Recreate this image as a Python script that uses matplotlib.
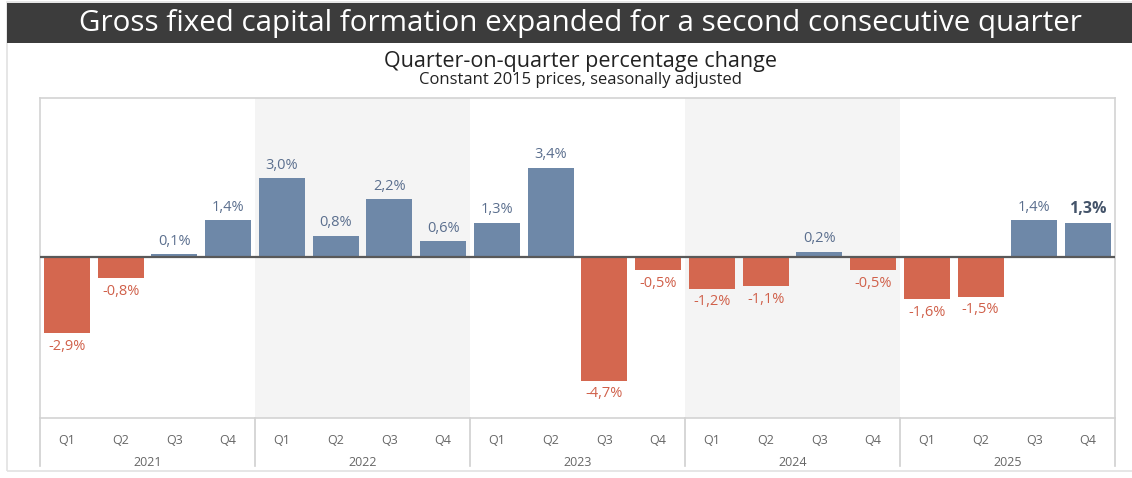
import numpy as np
import matplotlib
matplotlib.use("Agg")
import matplotlib.pyplot as plt
from matplotlib.patches import Rectangle
from matplotlib.lines import Line2D

plt.rcParams["font.family"] = ["Open Sans", "DejaVu Sans"]

years = ["2021", "2022", "2023", "2024", "2025"]
quarters = ["Q1", "Q2", "Q3", "Q4"]
values = [-2.9, -0.8, 0.1, 1.4,
          3.0, 0.8, 2.2, 0.6,
          1.3, 3.4, -4.7, -0.5,
          -1.2, -1.1, 0.2, -0.5,
          -1.6, -1.5, 1.4, 1.3]

BLUE = "#6e88a8"
RED = "#d4674f"
BLUE_TXT = "#5b6f8e"
RED_TXT = "#d0604a"
BAND = "#f4f4f4"
FRAME = "#d3d3d3"

W, H = 1132, 478
fig = plt.figure(figsize=(W / 100, H / 100), dpi=100)
fig.patch.set_facecolor("white")

def fx(px):
    return px / W

def fy(py):
    return 1 - py / H

# outer frame + header bar
fig.add_artist(Rectangle((fx(7), fy(471)), fx(1140) - fx(7), fy(2) - fy(471),
                         transform=fig.transFigure, facecolor="none",
                         edgecolor="#e2e2e2", lw=1.2))
fig.add_artist(Rectangle((fx(7), fy(43)), 1.0, fy(3) - fy(43),
                         transform=fig.transFigure, facecolor="#3c3c3c",
                         edgecolor="none"))
fig.text(fx(580), fy(23), "Gross fixed capital formation expanded for a second consecutive quarter",
         color="white", fontsize=21.3, ha="center", va="center")
fig.text(fx(580), fy(61), "Quarter-on-quarter percentage change",
         color="#222222", fontsize=15.5, ha="center", va="center")
fig.text(fx(580), fy(80), "Constant 2015 prices, seasonally adjusted",
         color="#222222", fontsize=12, ha="center", va="center")

left, right, top, bottom = 40, 1115, 98, 418
ax = fig.add_axes([fx(left), fy(bottom), fx(right) - fx(left), fy(top) - fy(bottom)])
n = len(values)
x = np.arange(n)
ax.set_xlim(-0.5, n - 0.5)
ax.set_ylim(-6.12, 6.05)

# shaded year bands
for i in range(len(years)):
    if i % 2 == 1:
        ax.axvspan(i * 4 - 0.5, i * 4 + 3.5, color=BAND, zorder=0, lw=0)

colors = [BLUE if v >= 0 else RED for v in values]
ax.bar(x, values, width=0.86, color=colors, zorder=2)
ax.axhline(0, color="#595959", lw=1.6, zorder=3)

for i, v in enumerate(values):
    txt = f"{v:.1f}%".replace(".", ",")
    last = i == n - 1
    if v >= 0:
        ax.annotate(txt, (i, v), xytext=(0, 4), textcoords="offset points",
                    ha="center", va="bottom", fontsize=11.5 if last else 10.5,
                    fontweight="bold" if last else "normal",
                    color="#44546a" if last else BLUE_TXT)
    else:
        ax.annotate(txt, (i, v), xytext=(0, -4), textcoords="offset points",
                    ha="center", va="top", fontsize=10.5, color=RED_TXT)

ax.set_xticks([])
ax.set_yticks([])
for side in ["top", "right", "left", "bottom"]:
    ax.spines[side].set_color(FRAME)
    ax.spines[side].set_linewidth(1.2)

# category axis below the plot
for i in range(n):
    ax.text(i, -0.07, quarters[i % 4], transform=ax.get_xaxis_transform(),
            ha="center", va="center", fontsize=9, color="#666666")
for j, yr in enumerate(years):
    ax.text(j * 4 + 1.5, -0.14, yr, transform=ax.get_xaxis_transform(),
            ha="center", va="center", fontsize=9, color="#666666")
for j in range(len(years) + 1):
    ax.add_line(Line2D([j * 4 - 0.5, j * 4 - 0.5], [0, -0.15],
                       transform=ax.get_xaxis_transform(), color="#cfcfcf",
                       lw=1.2, clip_on=False))

fig.savefig("out.png", dpi=100, facecolor="white")
